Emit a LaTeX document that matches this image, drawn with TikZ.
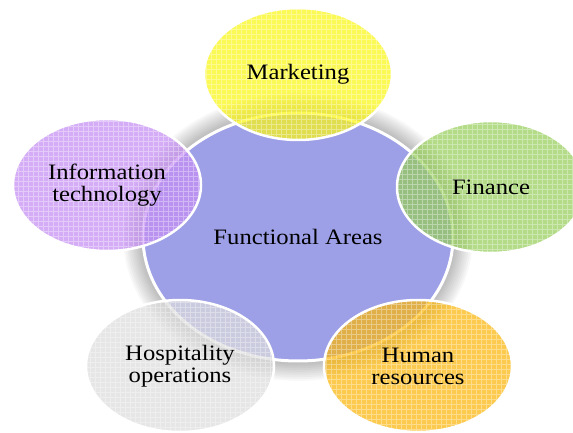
\documentclass[tikz,border=0pt]{standalone}
\usepackage{fontspec}
\setmainfont{Liberation Serif}
\usepackage{graphicx}
\usetikzlibrary{shapes.geometric}
\newcommand\sx[1]{\scalebox{1.12}[1]{#1}}
\definecolor{centralc}{RGB}{157,160,230}
\definecolor{mktc}{RGB}{250,246,20}
\definecolor{finc}{RGB}{150,205,90}
\definecolor{itc}{RGB}{196,142,243}
\definecolor{hosc}{RGB}{220,220,220}
\definecolor{hrc}{RGB}{250,182,10}
\begin{document}
\begin{tikzpicture}[x=1pt,y=-1pt,
  lbl/.style={font=\fontsize{22}{22}\selectfont, align=center, text=black, text opacity=1},
  sat/.style={ellipse, minimum width=188pt, minimum height=132pt, inner sep=0pt,
    draw=white, line width=2.5pt, fill opacity=0.72, lbl,
    path picture={\draw[white, line width=0.4pt, opacity=0.35]
      (path picture bounding box.north west) grid[step=5pt] (path picture bounding box.south east);}},
  shadowlayer/.style={fill=black, opacity=0.026}]
\useasboundingbox (0,0) rectangle (573,433);
\clip (0,0) rectangle (573,433);
% soft shadow around the central area
\foreach \k in {1,...,11}{
  \fill[shadowlayer] (298,237) ellipse [x radius={155pt+1.8pt*\k}, y radius={124pt+1.8pt*\k}];
}
\node[ellipse, minimum width=310pt, minimum height=248pt, inner sep=0pt,
  fill=centralc, draw=white, line width=3pt, lbl] (fa) at (298,237) {\sx{Functional Areas}};
\node[sat, fill=mktc] (mkt) at (298,74) {\sx{Marketing}};
\node[sat, fill=finc] (fin) at (491,187) {\sx{Finance}};
\node[sat, fill=hrc] (hr) at (418,366) {\sx{Human}\\\sx{resources}};
\node[sat, fill=hosc] (hos) at (180,366) {\sx{Hospitality}\\\sx{operations}};
\node[sat, fill=itc] (it) at (107,185) {\sx{Information}\\\sx{technology}};
\end{tikzpicture}
\end{document}
